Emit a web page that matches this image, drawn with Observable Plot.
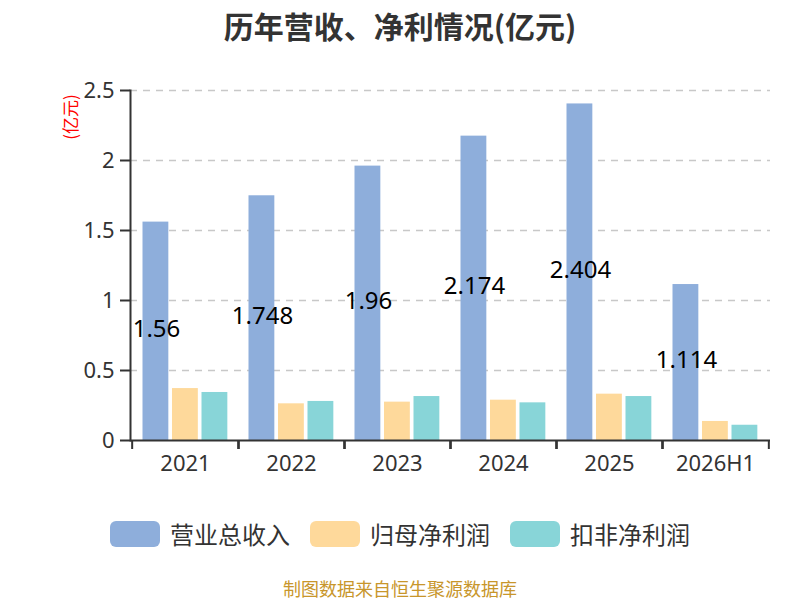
<!DOCTYPE html>
<html>
<head>
<meta charset="utf-8">
<script src="https://cdn.jsdelivr.net/npm/d3@7"></script>
<script src="https://cdn.jsdelivr.net/npm/@observablehq/plot@0.6"></script>
<style>
  body { margin: 0; background: #fff; font-family: "Noto Sans CJK SC", "Noto Sans", sans-serif; }
  #wrap { position: relative; width: 800px; height: 600px; overflow: hidden; }
  #title { position: absolute; top: 3px; left: 0; width: 800px; text-align: center; font-size: 30px; font-weight: bold; color: #333; }
  #unit { position: absolute; z-index: 5; left: 70px; top: 117px; transform: translate(-50%, -50%) rotate(-90deg); color: #ff0000; font-size: 17px; line-height: 20px; white-space: nowrap; }
  #chart { position: absolute; top: 50px; left: 0; z-index: 1; }
  #legend { position: absolute; top: 516px; left: 0; width: 800px; display: flex; justify-content: center; gap: 20px; font-size: 24px; line-height: 36px; color: #333; }
  .item { display: flex; align-items: center; }
  .sw { width: 50px; height: 26px; border-radius: 6px; margin-right: 10px; }
  #caption { position: absolute; top: 577px; left: 0; width: 800px; text-align: center; font-size: 18px; line-height: 22px; color: #c8962b; }
</style>
</head>
<body>
<div id="wrap">
  <div id="title">历年营收、净利情况(亿元)</div>
  <div id="unit">(亿元)</div>
  <div id="chart"></div>
  <div id="legend"></div>
  <div id="caption">制图数据来自恒生聚源数据库</div>
</div>
<script>
const years = ["2021", "2022", "2023", "2024", "2025", "2026H1"];
const revenue = [1.56, 1.748, 1.96, 2.174, 2.404, 1.114];
const netProfit = [0.371, 0.262, 0.274, 0.288, 0.331, 0.136];
const deductedProfit = [0.343, 0.279, 0.314, 0.269, 0.314, 0.109];
const seriesNames = ["营业总收入", "归母净利润", "扣非净利润"];
const seriesColors = ["#8eaedb", "#fed99b", "#88d5d8"];
const yTicks = [0, 0.5, 1, 1.5, 2, 2.5];

const table = years.map((y, i) => ({year: y, revenue: revenue[i], net: netProfit[i], deducted: deductedProfit[i]}));

const W = 800, ML = 130, MR = 30;
const bw = (W - ML - MR) / years.length;

const chart = Plot.plot({
  width: W,
  height: 440,
  marginLeft: ML,
  marginRight: MR,
  marginTop: 40,
  marginBottom: 50,
  style: {fontFamily: "'Noto Sans', 'Noto Sans CJK SC', sans-serif", color: "#333", background: "#fff"},
  x: {domain: years, padding: 0, axis: null},
  y: {domain: [0, 2.5], axis: null},
  marks: [
    Plot.gridY({ticks: yTicks.filter(d => d > 0), stroke: "#c8c8c8", strokeOpacity: 1, strokeWidth: 1.5, strokeDasharray: "7,6"}),
    Plot.barY(table, {x: "year", y: "revenue", fill: seriesColors[0], insetLeft: 10.5, insetRight: bw - 37}),
    Plot.barY(table, {x: "year", y: "net", fill: seriesColors[1], insetLeft: 40, insetRight: bw - 66.5}),
    Plot.barY(table, {x: "year", y: "deducted", fill: seriesColors[2], insetLeft: 69.5, insetRight: bw - 96}),
    Plot.ruleY([0], {stroke: "#333", strokeWidth: 2}),
    Plot.frame({anchor: "left", stroke: "#333", strokeWidth: 2}),
    Plot.axisY({ticks: yTicks, tickFormat: d => `${d}`, tickSize: 10, tickPadding: 6, fontSize: 22, strokeWidth: 2, stroke: "#333", label: null}),
    Plot.axisX({tickSize: 0, tickPadding: 15, fontSize: 22, label: null}),
    Plot.axisX({tickSize: 9, tickFormat: () => "", dx: -bw / 2, strokeWidth: 2, stroke: "#333", label: null}),
    Plot.axisX({tickSize: 9, tickFormat: () => "", dx: bw / 2, strokeWidth: 2, stroke: "#333", label: null}),
    Plot.text(table, {x: "year", y: d => d.revenue / 2, text: d => `${d.revenue}`, dx: -29, dy: -2, fontSize: 24, fill: "#000"})
  ]
});
document.getElementById("chart").appendChild(chart);

const legend = document.getElementById("legend");
seriesNames.forEach((name, i) => {
  const item = document.createElement("div");
  item.className = "item";
  const sw = document.createElement("div");
  sw.className = "sw";
  sw.style.background = seriesColors[i];
  const label = document.createElement("span");
  label.textContent = name;
  item.appendChild(sw);
  item.appendChild(label);
  legend.appendChild(item);
});
</script>
</body>
</html>
